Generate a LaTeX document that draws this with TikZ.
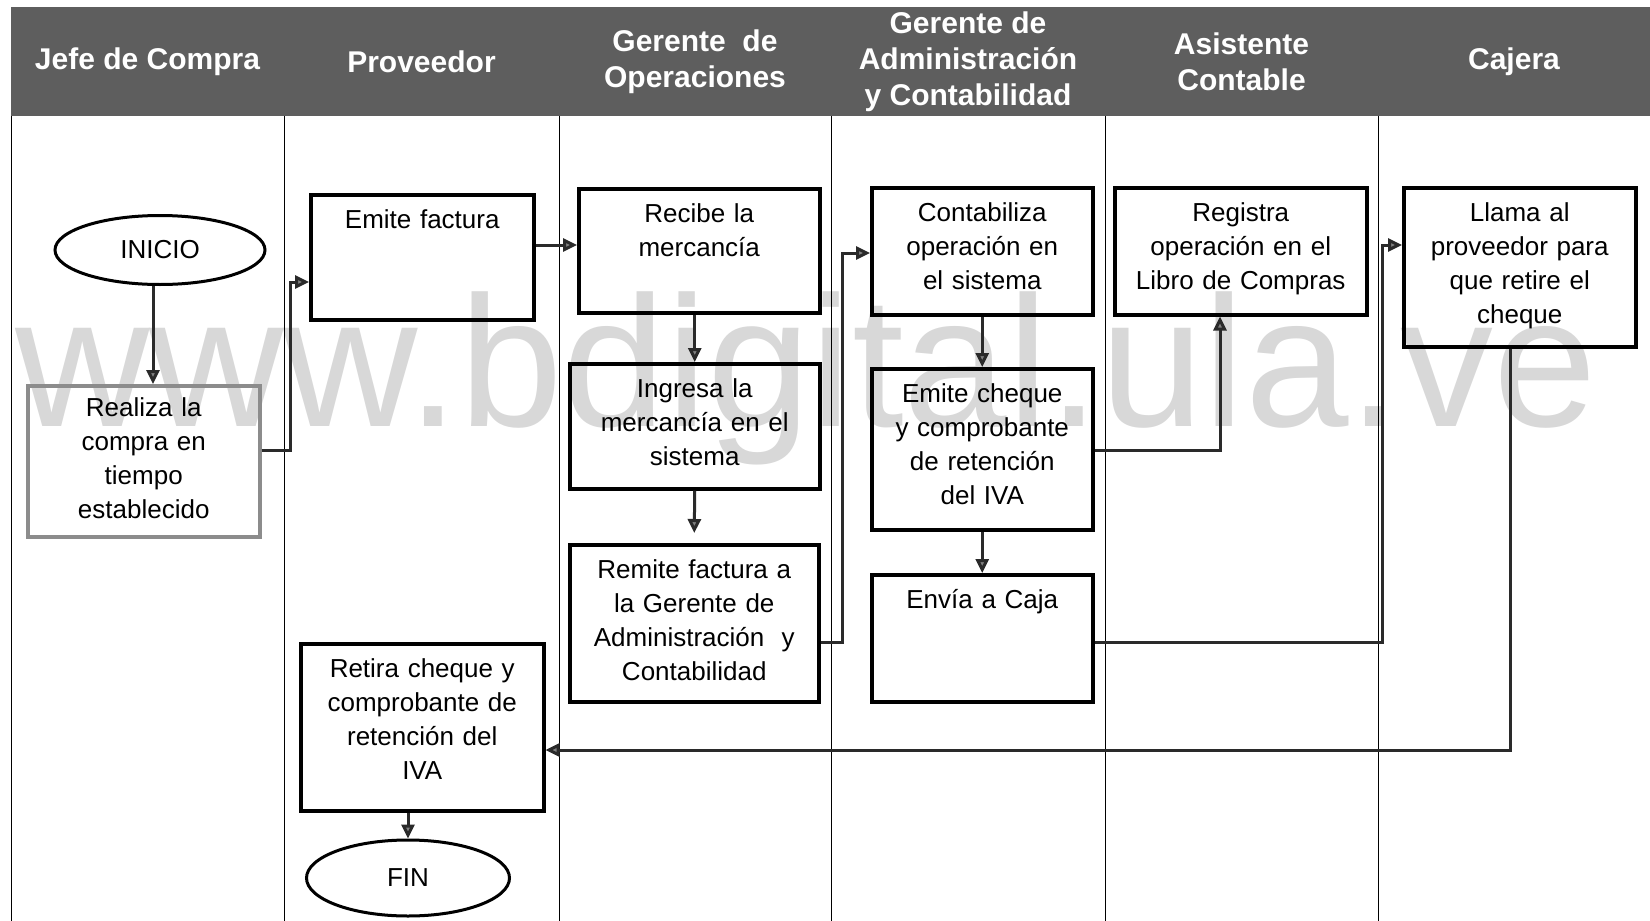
\documentclass[tikz,border=0pt]{standalone}
\usepackage{fontspec}
\setmainfont{Liberation Sans}
\usetikzlibrary{arrows.meta,calc,shapes.geometric}
\definecolor{hdrgray}{HTML}{5E5E5E}
\definecolor{wmgray}{HTML}{D8D8D8}
\definecolor{linegray}{HTML}{2A2A2A}
\begin{document}
\begin{tikzpicture}[x=1pt,y=-1pt,
  lane/.style={line width=1pt, draw=black},
  hdr/.style={text=white, font=\bfseries\fontsize{30}{36}\selectfont, align=center, inner sep=0pt},
  box/.style={draw=black, line width=3.5pt, rectangle, anchor=north west, inner sep=0pt},
  dbox/.style={box, draw=black!45},
  term/.style={draw=black, line width=3pt, ellipse, inner sep=0pt, font=\fontsize{26}{34}\selectfont},
  txt/.style={font=\fontsize{26}{34}\selectfont, align=center, text width=#1, inner sep=0pt, anchor=base},
  wm/.style={text=wmgray, font=\fontsize{186}{186}\selectfont, inner sep=0pt, anchor=base},
  conn/.style={draw=linegray, line width=3pt, -{Triangle[length=14pt,width=13pt,fill=black!50]}}
]
\useasboundingbox (0,0) rectangle (1650,921);

% header band
\fill[hdrgray] (11,7) rectangle (1650,116);
\node[hdr] (h1) at (147.5,62) {Jefe de Compra};
\node[hdr] (h2) at (421.5,62) {Proveedor};
\node[hdr] (h3) at (695,62) {Gerente\ \ de\\Operaciones};
\node[hdr] (h4) at (968,62) {Gerente de\\Administración\\y Contabilidad};
\node[hdr] (h5) at (1241.5,62) {Asistente\\Contable};
\node[hdr] (h6) at (1514,62) {Cajera};

% watermark
\node[wm] (wmark) at (806,426) {www.bdigital.ula.ve};

% lane borders
\foreach \lx in {11,284,559,831,1105,1378}
  \draw[lane] (\lx,116) -- (\lx,921);

% terminals
\node[term, minimum width=210pt, minimum height=69pt] (ini) at (160,250) {INICIO};
\node[term, minimum width=203pt, minimum height=76pt] (fin) at (408,878) {FIN};

% process boxes
\node[dbox, minimum width=232pt, minimum height=151pt] (real) at (26,384) {};
\node[box, minimum width=223pt, minimum height=125pt] (emf) at (309,193) {};
\node[box, minimum width=241pt, minimum height=124pt] (rec) at (577,187) {};
\node[box, minimum width=250pt, minimum height=125pt] (ing) at (568,362) {};
\node[box, minimum width=249pt, minimum height=157pt] (rem) at (568,543) {};
\node[box, minimum width=221pt, minimum height=127pt] (con) at (870,186) {};
\node[box, minimum width=221pt, minimum height=161pt] (emc) at (870,367) {};
\node[box, minimum width=221pt, minimum height=127pt] (env) at (870,573) {};
\node[box, minimum width=252pt, minimum height=127pt] (reg) at (1113,186) {};
\node[box, minimum width=232pt, minimum height=159pt] (lla) at (1402,186) {};
\node[box, minimum width=243pt, minimum height=167pt] (ret) at (299,642) {};

% box texts
\node[txt=220pt] (treal) at ($(real.north)+(0,32)$) {Realiza la\\compra en\\tiempo\\establecido};
\node[txt=220pt] (temf) at ($(emf.north)+(0,35)$) {Emite factura};
\node[txt=236pt] (trec) at ($(rec.north)+(0,35)$) {Recibe la\\mercancía};
\node[txt=246pt] (ting) at ($(ing.north)+(0,35)$) {Ingresa la\\mercancía en el\\sistema};
\node[txt=246pt] (trem) at ($(rem.north)+(0,35)$) {Remite factura a\\la Gerente de\\Administración\ \ y\\Contabilidad};
\node[txt=218pt] (tcon) at ($(con.north)+(0,35)$) {Contabiliza\\operación en\\el sistema};
\node[txt=218pt] (temc) at ($(emc.north)+(0,35)$) {Emite cheque\\y comprobante\\de retención\\del IVA};
\node[txt=218pt] (tenv) at ($(env.north)+(0,35)$) {Envía a Caja};
\node[txt=250pt] (treg) at ($(reg.north)+(0,35)$) {Registra\\operación en el\\Libro de Compras};
\node[txt=230pt] (tlla) at ($(lla.north)+(0,35)$) {Llama al\\proveedor para\\que retire el\\cheque};
\node[txt=240pt] (tret) at ($(ret.north)+(0,35)$) {Retira cheque y\\comprobante de\\retención del\\IVA};

% routing points
\coordinate (ya) at (0,450);
\coordinate (yb) at (0,282);
\coordinate (yc) at (0,245);
\coordinate (yd) at (0,642);
\coordinate (ye) at (0,253);
\coordinate (yf) at (0,750);
\coordinate (xa) at (153,0);
\coordinate (xb) at (1220,0);
\coordinate (xc) at (1510,0);

% connectors
\draw[conn] (ini.south -| xa) -- (real.north -| xa);
\draw[conn] (real.east |- ya) -- (290,450) |- (emf.west |- yb);
\draw[conn] (emf.east |- yc) -- (rec.west |- yc);
\draw[conn] (rec.south -| ing.north) -- (ing.north);
\draw[conn] (ing.south) -- ([yshift=10pt]rem.north);
\draw[conn] (rem.east |- yd) -- (842,642) |- (con.west |- ye);
\draw[conn] (con.south) -- (emc.north);
\draw[conn] (emc.south) -- (env.north);
\draw[conn] (emc.east |- ya) -| (reg.south -| xb);
\draw[conn] (env.east |- yd) -- (1382,642) |- (lla.west |- yc);
\draw[conn] (lla.south -| xc) |- (ret.east |- yf);
\draw[conn] (ret.south -| fin.north) -- (fin.north);
\end{tikzpicture}
\end{document}
